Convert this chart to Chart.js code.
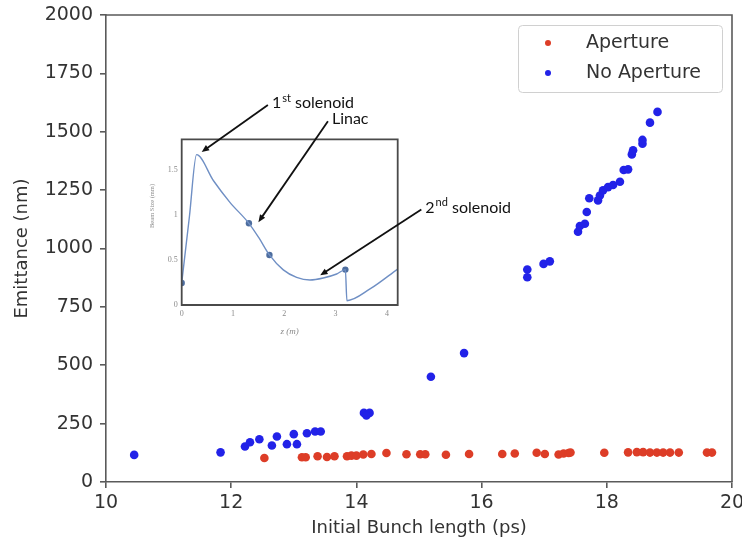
<!DOCTYPE html>
<html>
<head>
<meta charset="utf-8">
<script src="https://cdn.jsdelivr.net/npm/chart.js@4.4.1/dist/chart.umd.min.js"></script>
<style>
  html, body { margin: 0; padding: 0; background: #fff; }
  #wrap { position: relative; width: 742px; height: 543px; }
  #wrap canvas { position: absolute; left: 0; top: 0; }
</style>
</head>
<body>
<div id="wrap">
  <canvas id="mainChart" width="742" height="543"></canvas>
  <canvas id="insetChart" width="742" height="543"></canvas>
</div>
<script>
// main scatter: emittance vs initial bunch length
const apertureX = [12.53, 13.13, 13.19, 13.38, 13.53, 13.65, 13.85, 13.92, 14.00, 14.11, 14.24, 14.48,
  14.80, 15.02, 15.10, 15.43, 15.80, 16.33, 16.53, 16.88, 17.01, 17.23, 17.31, 17.39, 17.42, 17.96,
  18.34, 18.48, 18.58, 18.69, 18.80, 18.90, 19.01, 19.15, 19.60, 19.68];
const apertureY = [103, 106, 106, 110, 107, 110, 110, 113, 113, 118, 120, 124,
  119, 119, 119, 117, 120, 120, 122, 125, 120, 118, 122, 124, 126, 125,
  127, 128, 128, 126, 126, 126, 126, 126, 126, 126];

const noApertureX = [10.45, 11.83, 12.22, 12.30, 12.45, 12.65, 12.73, 12.89, 13.00, 13.05, 13.21, 13.34, 13.43,
  14.12, 14.21, 14.16, 15.19, 15.72, 16.73, 16.73, 16.99, 17.09, 17.54, 17.57, 17.65, 17.68, 17.72,
  17.86, 17.89, 17.94, 18.02, 18.10, 18.21, 18.27, 18.34, 18.40, 18.42, 18.57, 18.57, 18.69, 18.81];
const noApertureY = [116, 127, 152, 170, 183, 156, 195, 162, 205, 162, 209, 216, 216,
  296, 296, 285, 451, 552, 910, 877, 934, 945, 1072, 1096, 1106, 1156, 1215,
  1206, 1227, 1249, 1263, 1272, 1286, 1336, 1339, 1403, 1421, 1449, 1465, 1539, 1585];

const xTicks = [10, 12, 14, 16, 18, 20];
const yTicks = [0, 250, 500, 750, 1000, 1250, 1500, 1750, 2000];

// inset: beam size along z
const insetZ = [0, 0.15, 0.29, 0.62, 0.94, 1.31, 1.50, 1.71, 1.98, 2.24, 2.50, 2.76, 3.02, 3.19, 3.22, 3.67, 4.21];
const insetSize = [0.245, 0.98, 1.67, 1.38, 1.14, 0.907, 0.75, 0.556, 0.39, 0.307, 0.278, 0.30, 0.344, 0.393, 0.048, 0.178, 0.40];
const markerZ = [0, 1.31, 1.71, 3.19];
const markerSize = [0.245, 0.907, 0.556, 0.393];
const insetXTicks = [0, 1, 2, 3, 4];
const insetYTicks = [0, 0.5, 1, 1.5];

// callouts, in inset (z, size) units
const notes = [
  { lead: "1", sup: "st", rest: " solenoid", from: [1.68, 2.22], to: [0.39, 1.70] },
  { lead: "Linac", sup: "", rest: "", from: [2.85, 2.04], to: [1.495, 0.92] },
  { lead: "2", sup: "nd", rest: " solenoid", from: [4.67, 1.06], to: [2.70, 0.33] }
];

const pts = (xs, ys) => xs.map((x, i) => ({ x: x, y: ys[i] }));
const axisGrey = '#5a5a5a';
const textGrey = '#333';
const mainFont = 'DejaVu Sans';

const framePlugin = {
  id: 'frame',
  afterDraw(chart, args, opts) {
    const { ctx, chartArea: a } = chart;
    ctx.save();
    ctx.strokeStyle = opts.color;
    ctx.lineWidth = opts.width;
    ctx.beginPath();
    if (opts.full) {
      ctx.rect(a.left, a.top, a.right - a.left, a.bottom - a.top);
    } else {
      ctx.moveTo(a.left, a.top);
      ctx.lineTo(a.right, a.top);
      ctx.lineTo(a.right, a.bottom);
    }
    ctx.stroke();
    ctx.restore();
  }
};

const boxLegend = {
  id: 'boxLegend',
  afterDraw(chart) {
    const { ctx, chartArea: a } = chart;
    const w = 204, h = 67;
    const x = a.right - 10 - w, y = a.top + 10;
    ctx.save();
    ctx.fillStyle = 'rgba(255,255,255,0.9)';
    ctx.strokeStyle = '#d0d0d0';
    ctx.lineWidth = 1;
    ctx.beginPath();
    ctx.roundRect(x + 0.5, y + 0.5, w, h, 4);
    ctx.fill();
    ctx.stroke();
    ctx.font = '19px "' + mainFont + '"';
    ctx.textBaseline = 'middle';
    chart.data.datasets.forEach((ds, i) => {
      const cy = y + 18 + i * 30;
      ctx.fillStyle = ds.backgroundColor;
      ctx.beginPath();
      ctx.arc(x + 30, cy, 3, 0, Math.PI * 2);
      ctx.fill();
      ctx.fillStyle = textGrey;
      ctx.fillText(ds.label, x + 68, cy);
    });
    ctx.restore();
  }
};

new Chart(document.getElementById('mainChart'), {
  type: 'scatter',
  data: {
    datasets: [
      { label: 'Aperture', data: pts(apertureX, apertureY), backgroundColor: '#dd3d27', borderWidth: 0, pointRadius: 4.3 },
      { label: 'No Aperture', data: pts(noApertureX, noApertureY), backgroundColor: '#2222e8', borderWidth: 0, pointRadius: 4.3 }
    ]
  },
  options: {
    responsive: false,
    animation: false,
    devicePixelRatio: 1,
    layout: { padding: { top: 15, right: 10, left: 0, bottom: 0 } },
    plugins: {
      legend: { display: false },
      tooltip: { enabled: false },
      frame: { color: axisGrey, width: 1.6 }
    },
    scales: {
      x: {
        type: 'linear', min: 10, max: 20,
        afterBuildTicks: s => { s.ticks = xTicks.map(v => ({ value: v })); },
        afterFit: s => { s.height = 61; s.paddingLeft = 0; s.paddingRight = 0; },
        grid: { drawOnChartArea: false, drawTicks: true, tickLength: 6, color: axisGrey, lineWidth: 1.6 },
        border: { color: axisGrey, width: 1.6 },
        ticks: { color: textGrey, font: { family: mainFont, size: 19 }, padding: 4, maxRotation: 0, callback: v => String(v) },
        title: { display: true, text: 'Initial Bunch length (ps)', color: textGrey, font: { family: mainFont, size: 18 }, padding: { top: 0, bottom: 4 } }
      },
      y: {
        type: 'linear', min: 0, max: 2000,
        afterBuildTicks: s => { s.ticks = yTicks.map(v => ({ value: v })); },
        afterFit: s => { s.width = 106; s.paddingTop = 0; s.paddingBottom = 0; },
        grid: { drawOnChartArea: false, drawTicks: true, tickLength: 6, color: axisGrey, lineWidth: 1.6 },
        border: { color: axisGrey, width: 1.6 },
        ticks: { color: textGrey, font: { family: mainFont, size: 19 }, padding: 7, callback: v => String(v) },
        title: { display: true, text: 'Emittance (nm)', color: textGrey, font: { family: mainFont, size: 18 }, padding: { top: 12, bottom: 0 } }
      }
    }
  },
  plugins: [framePlugin, boxLegend]
});

const callouts = {
  id: 'callouts',
  afterDraw(chart) {
    const { ctx, scales: { x: sx, y: sy } } = chart;
    ctx.save();
    ctx.strokeStyle = '#111';
    ctx.fillStyle = '#111';
    ctx.lineWidth = 1.8;
    notes.forEach(n => {
      const x0 = sx.getPixelForValue(n.from[0]), y0 = sy.getPixelForValue(n.from[1]);
      const x1 = sx.getPixelForValue(n.to[0]), y1 = sy.getPixelForValue(n.to[1]);
      const ang = Math.atan2(y1 - y0, x1 - x0);
      const head = 8;
      ctx.beginPath();
      ctx.moveTo(x0, y0);
      ctx.lineTo(x1 - Math.cos(ang) * head * 0.8, y1 - Math.sin(ang) * head * 0.8);
      ctx.stroke();
      ctx.beginPath();
      ctx.moveTo(x1, y1);
      ctx.lineTo(x1 - head * Math.cos(ang - 0.4), y1 - head * Math.sin(ang - 0.4));
      ctx.lineTo(x1 - head * Math.cos(ang + 0.4), y1 - head * Math.sin(ang + 0.4));
      ctx.closePath();
      ctx.fill();
      // label next to the arrow tail
      let tx = x0 + 4;
      const ty = y0 - 2;
      ctx.textBaseline = 'middle';
      ctx.textAlign = 'left';
      ctx.font = '16px Lato';
      ctx.fillText(n.lead, tx, ty);
      tx += ctx.measureText(n.lead).width;
      if (n.sup) {
        ctx.font = '11px Lato';
        ctx.fillText(n.sup, tx + 1, ty - 5);
        tx += ctx.measureText(n.sup).width + 1;
        ctx.font = '16px Lato';
        ctx.fillText(n.rest, tx, ty);
      }
    });
    ctx.restore();
  }
};

// rotated size label, centred a little above the middle of the inset axis
const insetYLabel = {
  id: 'insetYLabel',
  afterDraw(chart, args, opts) {
    const { ctx, scales: { y: sy } } = chart;
    ctx.save();
    ctx.translate(sy.left + 5, sy.getPixelForValue(opts.at));
    ctx.rotate(-Math.PI / 2);
    ctx.fillStyle = opts.color;
    ctx.font = '6.5px "Liberation Serif"';
    ctx.textAlign = 'center';
    ctx.textBaseline = 'middle';
    ctx.fillText(opts.text, 0, 0);
    ctx.restore();
  }
};

const insetGrey = '#8a8a8a';
new Chart(document.getElementById('insetChart'), {
  type: 'line',
  data: {
    datasets: [
      { data: pts(insetZ, insetSize), borderColor: '#6f8fc4', borderWidth: 1.4, pointRadius: 0, cubicInterpolationMode: 'monotone', fill: false },
      { data: pts(markerZ, markerSize), showLine: false, pointRadius: 3.2, backgroundColor: '#4d6d9e', borderWidth: 0 }
    ]
  },
  options: {
    responsive: false,
    animation: false,
    devicePixelRatio: 1,
    layout: { padding: { top: 139.3, right: 344.3, left: 147.7, bottom: 206 } },
    plugins: {
      legend: { display: false },
      tooltip: { enabled: false },
      frame: { color: '#4a4a4a', width: 1.8, full: true },
      insetYLabel: { text: 'Beam Size (mm)', at: 1.1, color: insetGrey }
    },
    scales: {
      x: {
        type: 'linear', min: 0, max: 4.21,
        afterBuildTicks: s => { s.ticks = insetXTicks.map(v => ({ value: v })); },
        afterFit: s => { s.height = 32; s.paddingLeft = 0; s.paddingRight = 0; },
        grid: { display: false, drawTicks: false },
        border: { display: false },
        ticks: { color: insetGrey, font: { family: 'Liberation Serif', size: 8 }, padding: 4, maxRotation: 0, callback: v => String(v) },
        title: { display: true, text: 'z (m)', color: insetGrey, font: { family: 'Liberation Serif', size: 9, style: 'italic' }, padding: 0 }
      },
      y: {
        type: 'linear', min: 0, max: 1.84,
        afterBuildTicks: s => { s.ticks = insetYTicks.map(v => ({ value: v })); },
        afterFit: s => { s.width = 34; s.paddingTop = 0; s.paddingBottom = 0; },
        grid: { display: false, drawTicks: false },
        border: { display: false },
        ticks: { color: insetGrey, font: { family: 'Liberation Serif', size: 8 }, padding: 4, callback: v => String(v) }
      }
    }
  },
  plugins: [framePlugin, callouts, insetYLabel]
});
</script>
</body>
</html>
